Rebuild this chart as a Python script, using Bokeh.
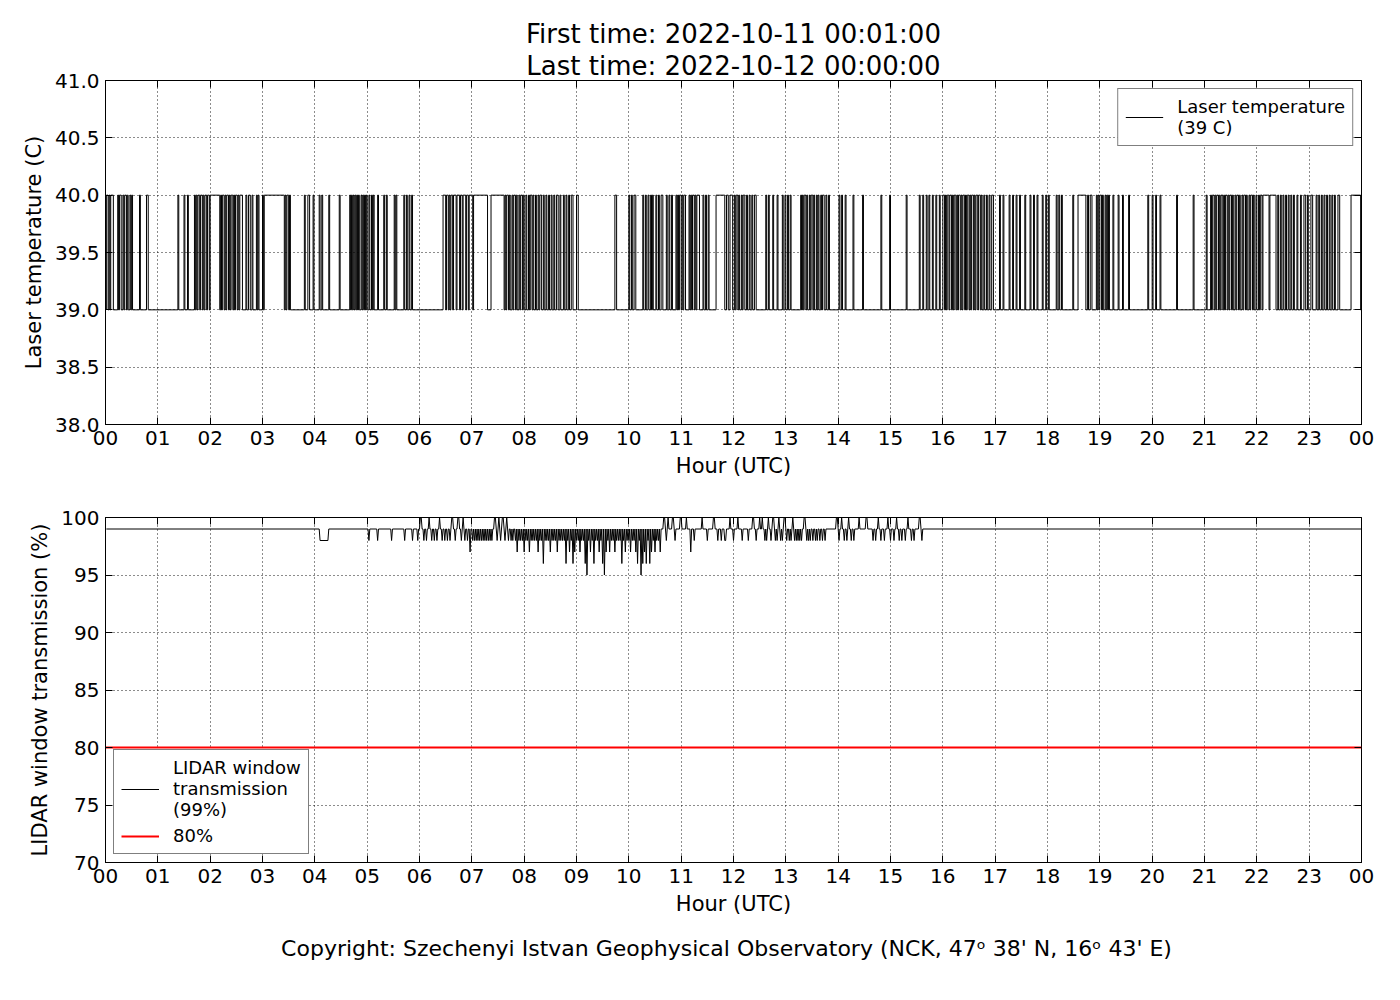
from bokeh.plotting import figure
from bokeh.models import (FixedTicker, LinearAxis, Legend, LegendItem, Title,
                          PrintfTickFormatter)
from bokeh.layouts import column
from bokeh.embed import file_html
from bokeh.resources import INLINE

FONT = "DejaVu Sans"

# ---------------- data ----------------
hour_ticks = list(range(25))
hour_labels = ["00", "01", "02", "03", "04", "05", "06", "07", "08", "09", "10", "11",
               "12", "13", "14", "15", "16", "17", "18", "19", "20", "21", "22", "23", "00"]
x_limits = [0, 24]
temp_ticks = [38.0, 38.5, 39.0, 39.5, 40.0, 40.5, 41.0]
trans_ticks = [70, 75, 80, 85, 90, 95, 100]

first_minute = 1
last_minute = 1440

# laser temperature: baseline 39 C, spans (start minute, end minute) at 40 C
temp_low = 39
temp_high = 40
temp_high_spans = [
    (1, 3), (4, 5), (6, 9), (14, 15), (16, 18), (20, 21), (22, 24), (25, 26), (28, 29), (30, 31),
    (39, 40), (47, 49), (83, 84), (90, 91), (94, 95), (102, 103), (104, 105), (106, 108),
    (109, 111), (112, 113), (114, 116), (117, 119), (120, 131), (132, 133), (134, 136),
    (137, 138), (139, 141), (142, 143), (144, 146), (147, 148), (149, 151), (152, 153),
    (154, 157), (161, 162), (164, 166), (168, 169), (173, 174), (175, 176), (180, 181),
    (182, 205), (206, 207), (208, 210), (211, 212), (228, 229), (232, 234), (238, 239),
    (245, 246), (248, 249), (256, 257), (268, 269), (280, 281), (282, 283), (284, 285),
    (286, 287), (288, 289), (290, 291), (293, 294), (295, 296), (297, 298), (299, 300),
    (302, 303), (305, 306), (307, 308), (312, 313), (319, 320), (322, 323), (331, 332),
    (333, 334), (342, 343), (345, 346), (348, 349), (351, 352),
    (387, 390), (391, 393), (394, 395), (396, 398), (399, 402), (403, 406), (407, 409),
    (410, 413), (414, 416), (417, 421), (422, 438), (442, 457), (458, 459), (460, 462),
    (463, 464), (466, 467), (468, 470), (471, 472), (474, 475), (476, 478), (479, 480),
    (482, 483), (485, 486), (487, 489), (490, 491), (493, 494), (496, 497), (498, 500),
    (502, 503), (505, 506), (508, 509), (511, 512), (514, 515), (517, 519), (521, 522),
    (525, 526), (528, 529), (531, 532), (534, 536), (540, 542), (584, 586),
    (600, 601), (603, 604), (606, 608), (616, 617), (619, 620), (622, 623), (625, 626),
    (627, 628), (631, 632), (634, 635), (637, 639), (643, 644), (646, 647), (649, 650),
    (654, 655), (656, 657), (658, 660), (661, 662), (663, 665), (669, 670), (671, 672),
    (673, 675), (676, 677), (678, 681), (685, 686), (688, 689), (691, 692), (700, 710),
    (712, 714), (716, 719), (721, 722), (723, 725), (726, 727), (729, 730), (731, 733),
    (735, 736), (738, 739), (741, 742), (744, 746), (757, 758), (760, 761), (765, 766),
    (770, 771), (776, 777), (779, 780), (782, 783), (785, 786), (797, 798), (799, 800),
    (801, 803), (804, 805), (807, 808), (809, 811), (812, 813), (815, 816), (817, 818),
    (820, 821), (822, 824), (826, 827), (829, 830), (841, 842), (844, 845), (848, 849),
    (857, 858), (868, 869), (889, 890), (899, 900), (918, 919), (933, 934), (937, 938),
    (941, 942), (944, 945), (948, 949), (952, 953), (956, 957),
    (960, 962), (963, 964), (965, 967), (968, 970), (971, 972), (973, 975), (976, 977),
    (978, 980), (981, 982), (983, 985), (986, 987), (988, 990), (991, 992), (993, 995),
    (996, 997), (998, 1000), (1001, 1003), (1004, 1005), (1007, 1008), (1010, 1011),
    (1013, 1014), (1016, 1018), (1025, 1026), (1029, 1030), (1036, 1037), (1040, 1041),
    (1044, 1045), (1048, 1049), (1054, 1055), (1060, 1061), (1064, 1065), (1068, 1069),
    (1074, 1075), (1078, 1079), (1081, 1082), (1090, 1091), (1093, 1094), (1096, 1097),
    (1109, 1110), (1115, 1124), (1126, 1127), (1129, 1131), (1136, 1137), (1138, 1139),
    (1140, 1142), (1143, 1144), (1146, 1147), (1148, 1149), (1150, 1151), (1155, 1156),
    (1161, 1162), (1166, 1167), (1173, 1174), (1195, 1196), (1200, 1201), (1204, 1205),
    (1209, 1210), (1228, 1229), (1247, 1248), (1262, 1263), (1267, 1268), (1269, 1271),
    (1272, 1273), (1274, 1276), (1277, 1278), (1279, 1281), (1282, 1283), (1284, 1286),
    (1287, 1288), (1289, 1291), (1292, 1293), (1295, 1296), (1297, 1299), (1300, 1301),
    (1303, 1304), (1305, 1307), (1308, 1309), (1311, 1312), (1313, 1315), (1316, 1317),
    (1319, 1320), (1322, 1323), (1324, 1326), (1327, 1334), (1335, 1342), (1344, 1345),
    (1347, 1348), (1350, 1351), (1353, 1354), (1356, 1357), (1359, 1360), (1362, 1363),
    (1366, 1367), (1370, 1371), (1374, 1376), (1378, 1379), (1382, 1384), (1388, 1389),
    (1391, 1392), (1394, 1395), (1397, 1398), (1400, 1401), (1403, 1404), (1406, 1407),
    (1409, 1410), (1413, 1415), (1428, 1439),
]

# LIDAR window transmission: baseline 99 %, deviations (start minute, end minute, value)
trans_base = 99
trans_devs = [
    (246, 255, 98), (302, 302, 98), (312, 312, 98), (328, 328, 98), (343, 343, 98),
    (352, 352, 98), (358, 358, 98),
    (361, 362, 100), (365, 365, 98), (368, 368, 98), (371, 371, 100), (374, 374, 98),
    (377, 377, 98), (380, 380, 98), (383, 383, 100), (386, 386, 98), (389, 389, 98),
    (392, 392, 98), (395, 395, 98), (397, 398, 100), (401, 401, 98), (404, 405, 100),
    (408, 408, 98), (410, 410, 100), (412, 412, 98), (415, 415, 98), (418, 418, 97),
    (421, 421, 98), (423, 423, 98), (425, 425, 98), (427, 427, 98), (429, 429, 98),
    (431, 431, 98), (433, 433, 98), (435, 435, 98), (437, 437, 98), (439, 439, 98),
    (441, 441, 98), (443, 443, 98), (446, 447, 100), (449, 449, 98), (451, 451, 100),
    (453, 453, 98), (455, 456, 100), (458, 458, 98), (460, 460, 100), (462, 462, 98),
    (465, 465, 98), (467, 467, 98),
    (470, 470, 98), (472, 472, 97), (474, 474, 98), (476, 476, 98), (478, 478, 98),
    (480, 480, 97), (482, 482, 98), (484, 484, 98), (486, 486, 97), (488, 488, 98),
    (490, 490, 98), (492, 492, 98), (494, 494, 98), (496, 496, 97), (498, 498, 98),
    (500, 500, 98), (502, 502, 96), (504, 504, 98), (506, 506, 98), (508, 508, 98),
    (510, 510, 97), (512, 512, 98), (514, 514, 98), (516, 516, 98), (518, 518, 97),
    (520, 520, 98), (522, 522, 98), (524, 524, 98), (526, 526, 98), (528, 528, 96),
    (530, 530, 98), (532, 532, 97), (534, 534, 98), (536, 536, 96), (538, 538, 97),
    (540, 540, 98), (542, 542, 98), (544, 544, 97), (546, 546, 98), (548, 548, 98),
    (550, 550, 96), (552, 552, 95), (554, 554, 98), (556, 556, 97), (558, 558, 98),
    (560, 560, 96), (562, 562, 98), (564, 564, 98), (566, 566, 97), (568, 568, 98),
    (570, 570, 96), (572, 572, 95), (574, 574, 97), (576, 576, 98), (578, 578, 97),
    (580, 580, 98), (582, 582, 98), (584, 584, 97), (586, 586, 98), (588, 588, 98),
    (590, 590, 98), (592, 592, 96), (594, 594, 98), (596, 596, 97), (598, 598, 98),
    (600, 600, 98), (602, 602, 97), (604, 604, 98), (606, 606, 98), (608, 608, 97),
    (610, 610, 96), (612, 612, 98), (614, 614, 95), (616, 616, 96), (618, 618, 97),
    (620, 620, 96), (622, 622, 98), (624, 624, 96), (626, 626, 97), (628, 628, 98),
    (630, 630, 97), (632, 632, 98), (634, 634, 98), (636, 636, 97),
    (640, 641, 100), (643, 643, 98), (645, 645, 100), (650, 651, 100), (653, 653, 98),
    (659, 660, 100), (666, 666, 100), (671, 671, 97), (675, 675, 98), (684, 684, 100),
    (690, 690, 98), (697, 698, 100), (702, 702, 98), (706, 706, 98), (710, 711, 98),
    (716, 716, 100), (720, 720, 98), (725, 725, 100), (730, 730, 98), (737, 737, 98),
    (742, 743, 100), (746, 746, 98), (750, 750, 100), (753, 753, 100), (756, 756, 98),
    (758, 758, 98), (760, 760, 100), (763, 763, 98), (765, 766, 100), (768, 768, 98),
    (770, 770, 98), (772, 772, 100), (774, 774, 98), (776, 776, 98), (778, 779, 100),
    (781, 781, 98), (784, 784, 98), (786, 786, 98), (788, 788, 100), (790, 790, 98),
    (792, 792, 98), (794, 794, 98), (796, 796, 98), (798, 798, 98), (801, 802, 100),
    (804, 804, 98), (806, 806, 98), (808, 808, 98), (811, 811, 98), (814, 814, 98),
    (816, 816, 98), (819, 819, 98), (822, 822, 98), (825, 825, 98), (838, 839, 100),
    (841, 841, 98), (844, 844, 100), (847, 847, 98), (850, 850, 98), (852, 852, 100),
    (855, 855, 98), (858, 858, 98), (864, 864, 100), (872, 873, 100), (880, 880, 98),
    (883, 883, 98), (886, 886, 100), (889, 889, 98), (893, 893, 98), (897, 897, 100),
    (900, 900, 98), (904, 904, 98), (907, 907, 100), (910, 910, 98), (913, 913, 98),
    (917, 917, 98), (920, 920, 100), (924, 924, 98), (927, 927, 98), (933, 934, 100),
    (936, 936, 98),
]
threshold = 80

title_first = "First time: 2022-10-11 00:01:00"
title_last = "Last time: 2022-10-12 00:00:00"
copyright_text = "Copyright: Szechenyi Istvan Geophysical Observatory (NCK, 47\u1d52  38' N, 16\u1d52  43' E)"

# ---------------- build series ----------------
temp_x = [first_minute / 60]
temp_y = [temp_low]
for s, e in temp_high_spans:
    temp_x += [s / 60, e / 60]
    temp_y += [temp_high, temp_low]
temp_x.append(last_minute / 60)
temp_y.append(temp_low)

trans_x = [first_minute / 60]
trans_y = [trans_base]
for s, e, v in trans_devs:
    trans_x += [(s - 1) / 60, s / 60, e / 60, (e + 1) / 60]
    trans_y += [trans_base, v, v, trans_base]
trans_x.append(last_minute / 60)
trans_y.append(trans_base)

# ---------------- styling helpers ----------------
xticker = FixedTicker(ticks=hour_ticks)
x_overrides = {i: lab for i, lab in zip(hour_ticks, hour_labels)}


def mirror_axis(ticker):
    return LinearAxis(ticker=ticker, major_label_overrides={t: "" for t in ticker.ticks},
                      major_label_text_font_size="1px", major_label_standoff=0,
                      major_tick_in=7, major_tick_out=0, minor_tick_in=0, minor_tick_out=0,
                      axis_line_color=None, major_tick_line_color="black")


def style(p, yticker, yfmt, xlabel, ylabel):
    p.outline_line_color = "black"
    p.outline_line_width = 1
    p.background_fill_color = "white"
    p.border_fill_color = "white"
    for g in (p.xgrid[0], p.ygrid[0]):
        g.grid_line_color = "black"
        g.grid_line_dash = "1 3"
        g.grid_line_width = 1
        g.grid_line_alpha = 0.9
    xa = p.below[0]
    ya = p.left[0]
    xa.ticker = xticker
    xa.major_label_overrides = x_overrides
    ya.ticker = yticker
    ya.formatter = PrintfTickFormatter(format=yfmt)
    xa.axis_label = xlabel
    ya.axis_label = ylabel
    for ax in (xa, ya):
        ax.major_tick_in = 7
        ax.major_tick_out = 0
        ax.minor_tick_in = 0
        ax.minor_tick_out = 0
        ax.axis_line_color = "black"
        ax.major_tick_line_color = "black"
        ax.major_label_text_font = FONT
        ax.major_label_text_font_size = "20px"
        ax.major_label_text_color = "black"
        ax.axis_label_text_font = FONT
        ax.axis_label_text_font_size = "21px"
        ax.axis_label_text_font_style = "normal"
        ax.axis_label_text_color = "black"
        ax.major_label_standoff = 6
        ax.axis_label_standoff = 6
    # mirrored inner ticks on the right and top sides (no labels)
    p.add_layout(mirror_axis(yticker), "right")
    p.add_layout(mirror_axis(xticker), "above")


# ---------------- top panel ----------------
p1 = figure(frame_width=1256, frame_height=344, x_range=(x_limits[0], x_limits[1]),
            y_range=(temp_ticks[0], temp_ticks[-1]), output_backend="svg",
            toolbar_location=None, min_border_left=105, min_border_right=28,
            min_border_top=80, min_border_bottom=62)
p1.title.text = ""
style(p1, FixedTicker(ticks=temp_ticks), "%.1f", "Hour (UTC)", "Laser temperature (C)")
r_temp = p1.step(temp_x, temp_y, mode="after", line_color="black", line_width=1.0)

for txt in (title_last, title_first):
    p1.add_layout(Title(text=txt, align="center", text_font=FONT, text_font_size="26px",
                        text_font_style="normal", text_color="black", standoff=0,
                        offset=0), "above")

leg1 = Legend(items=[LegendItem(label="Laser temperature\n(39 C)", renderers=[r_temp])],
              location="top_right", margin=8, padding=7, spacing=4,
              glyph_width=38, label_standoff=14, label_text_font=FONT,
              label_text_font_size="18px", label_text_color="black",
              border_line_color="black", border_line_width=1, background_fill_alpha=1.0)
p1.add_layout(leg1)

# ---------------- bottom panel ----------------
p2 = figure(frame_width=1256, frame_height=345, x_range=(x_limits[0], x_limits[1]),
            y_range=(trans_ticks[0], trans_ticks[-1]), output_backend="svg",
            toolbar_location=None, min_border_left=105, min_border_right=28,
            min_border_top=31, min_border_bottom=123)
p2.title.text = ""
style(p2, FixedTicker(ticks=trans_ticks), "%d", "Hour (UTC)", "LIDAR window transmission (%)")
r_trans = p2.line(trans_x, trans_y, line_color="black", line_width=1.0)
r_thr = p2.line(x_limits, [threshold, threshold], line_color="red", line_width=2.2)

leg2 = Legend(items=[LegendItem(label="LIDAR window\ntransmission\n(99%)", renderers=[r_trans]),
                     LegendItem(label="80%", renderers=[r_thr])],
              location="bottom_left", margin=8, padding=7, spacing=5,
              glyph_width=38, label_standoff=14, label_text_font=FONT,
              label_text_font_size="18px", label_text_color="black",
              border_line_color="black", border_line_width=1, background_fill_alpha=1.0)
p2.add_layout(leg2)

p2.add_layout(Title(text=copyright_text, align="center", text_font=FONT,
                    text_font_size="22px", text_font_style="normal", text_color="black",
                    standoff=31, offset=9), "below")

layout = column(p1, p2, spacing=0)
open("out.html", "w").write(file_html(layout, INLINE))
